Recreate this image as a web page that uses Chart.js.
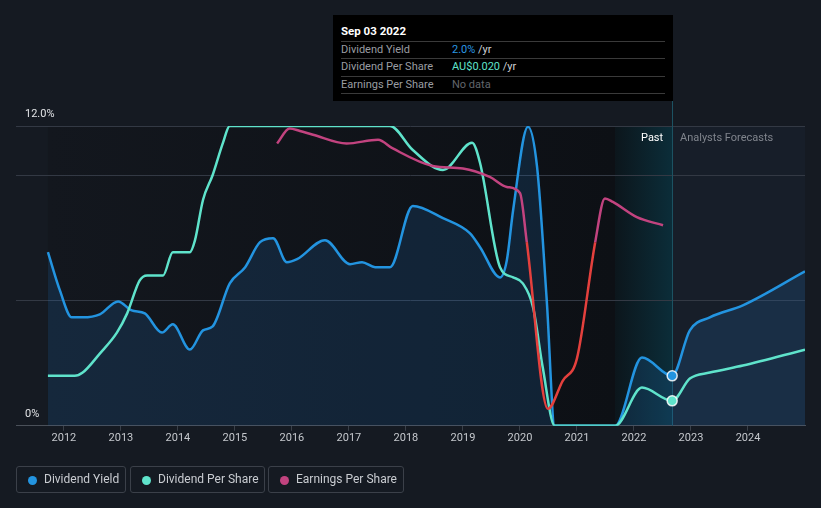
<!DOCTYPE html>
<html>
<head>
<meta charset="utf-8">
<script src="https://cdn.jsdelivr.net/npm/chart.js@4/dist/chart.umd.min.js"></script>
<style>
  html, body { margin:0; padding:0; background:#151a22; }
  #wrap { position:relative; width:821px; height:508px; background:#151a22; font-family: Roboto, "Open Sans", sans-serif; overflow:hidden; }
  canvas { position:absolute; left:0; top:0; }
  .tip { position:absolute; left:333px; top:15px; width:340px; height:86px; background:#000; }
  .tip .title { position:absolute; left:8px; top:9px; color:#fff; font-weight:bold; font-size:11.5px; }
  .tip .row { position:absolute; left:8px; width:324px; height:17px; border-top:1px solid #3a3a3a; font-size:11px; line-height:16px; }
  .tip .row .lab { position:absolute; left:0; color:#9a9da2; }
  .tip .row .val { position:absolute; left:111px; color:#cfd2d6; }
  .tip .last { position:absolute; left:8px; width:324px; top:78px; border-top:1px solid #3a3a3a; }
  .lbl { position:absolute; top:131px; font-size:11px; }
  .legend { position:absolute; top:466px; height:25px; border:1px solid #3b4049; border-radius:3px; color:#c9ccd1; font-size:12px; line-height:25px; box-sizing:content-box; }
  .legend .dot { position:absolute; top:8.5px; width:9px; height:9px; border-radius:50%; }
</style>
</head>
<body>
<div id="wrap">
  <canvas id="c" width="821" height="508"></canvas>
  <div class="tip">
    <div class="title">Sep 03 2022</div>
    <div class="row" style="top:26px"><span class="lab">Dividend Yield</span><span class="val"><span style="color:#2a97e4">2.0%</span> /yr</span></div>
    <div class="row" style="top:43px"><span class="lab">Dividend Per Share</span><span class="val"><span style="color:#5fe3cb">AU$0.020</span> /yr</span></div>
    <div class="row" style="top:61px"><span class="lab">Earnings Per Share</span><span class="val" style="color:#62666c">No data</span></div>
    <div class="last"></div>
  </div>
  <div class="lbl" style="left:641px;color:#ffffff">Past</div>
  <div class="lbl" style="left:680px;color:#80858d">Analysts Forecasts</div>
  <div class="legend" style="left:16px;width:108px"><span class="dot" style="left:11px;background:#2394e0"></span><span style="position:absolute;left:27px">Dividend Yield</span></div>
  <div class="legend" style="left:130px;width:133px"><span class="dot" style="left:11px;background:#5fe3cb"></span><span style="position:absolute;left:27px">Dividend Per Share</span></div>
  <div class="legend" style="left:268px;width:134px"><span class="dot" style="left:11px;background:#c2437f"></span><span style="position:absolute;left:27px">Earnings Per Share</span></div>
</div>
<script>
// ---- data ----
const tickYears = [2012,2013,2014,2015,2016,2017,2018,2019,2020,2021,2022,2023,2024];
const yTickValues = [0,5,10,12];

const yieldYears = [2011.72,2011.93,2012.14,2012.33,2012.63,2012.95,2013.19,2013.42,2013.72,2013.91,2014.21,2014.44,2014.61,2014.91,2015.18,2015.44,2015.67,2015.91,2016.09,2016.58,2017.02,2017.23,2017.46,2017.72,2018.12,2018.65,2019.12,2019.30,2019.65,2019.77,2019.88,2020.14,2020.30,2020.47,2020.61,2021.67,2022.14,2022.67,2022.98,2023.33,2023.91,2025.0];
const yieldValues = [6.95,5.42,4.34,4.34,4.46,4.98,4.62,4.50,3.73,4.06,3.05,3.82,3.98,5.70,6.35,7.35,7.51,6.55,6.67,7.43,6.47,6.55,6.35,6.35,8.80,8.31,7.71,7.15,5.94,6.63,8.63,11.97,10.36,5.02,0,0,2.73,2.0,3.82,4.34,4.82,6.18];

const dpsYears = [2011.72,2012.19,2012.33,2012.63,2012.93,2013.11,2013.33,2013.46,2013.74,2013.91,2014.21,2014.30,2014.44,2014.61,2014.79,2014.91,2017.72,2018.12,2018.65,2019.16,2019.30,2019.65,2019.88,2020.05,2020.23,2020.40,2020.61,2021.67,2022.14,2022.67,2022.98,2023.33,2023.91,2025.0];
const dpsValues = [0.040,0.040,0.0426,0.0578,0.0746,0.090,0.1164,0.1204,0.1204,0.139,0.139,0.1486,0.1808,0.2008,0.2265,0.24,0.24,0.2208,0.2048,0.2266,0.2104,0.127,0.1188,0.114,0.0948,0.0466,0,0,0.0306,0.020,0.0378,0.0426,0.0482,0.061];

const epsYears = [2015.74,2015.96,2016.14,2016.37,2016.96,2017.51,2017.77,2018.47,2019.0,2019.47,2019.77,2020.0,2020.12,2020.49,2020.75,2021.0,2021.32,2021.49,2021.63,2022.05,2022.51];
const epsValues = [0.113,0.119,0.118,0.1165,0.113,0.1145,0.111,0.104,0.103,0.0996,0.0956,0.0932,0.0735,0.0068,0.018,0.027,0.0735,0.091,0.0896,0.0835,0.0803];

const X_MIN = 2011.16, X_MAX = 2025.0;
const PAST_START = 2011.72, BAND_START = 2021.67, NOW = 2022.67;
const EPS_LOW = 0.0735;

const BLUE = '#2394e0', TEAL = '#5fe3cb', PINK = '#c2437f', RED = '#e4403d';

const toPts = (xs, ys) => xs.map((x, i) => ({x, y: ys[i]}));
const nowRadius = c => (c.raw && c.raw.x === NOW) ? 5 : 0;

const bgPlugin = {
  id: 'bg',
  beforeDraw(chart) {
    const {ctx, chartArea: {top, bottom, right}, scales: {x}} = chart;
    const xs = x.getPixelForValue(PAST_START), xb = x.getPixelForValue(BAND_START), xn = x.getPixelForValue(NOW);
    ctx.save();
    let g = ctx.createLinearGradient(xs, 0, xb, 0);
    g.addColorStop(0, '#13171e'); g.addColorStop(1, '#0d1015');
    ctx.fillStyle = g; ctx.fillRect(xs, top, xb - xs, bottom - top);
    g = ctx.createLinearGradient(xb, 0, xn, 0);
    g.addColorStop(0, '#0c161c'); g.addColorStop(1, '#0b2d39');
    ctx.fillStyle = g; ctx.fillRect(xb, top, xn - xb, bottom - top);
    ctx.fillStyle = '#171e29'; ctx.fillRect(xn, top, right - xn, bottom - top);
    ctx.restore();
  },
  beforeDatasetsDraw(chart) {
    const {ctx, chartArea: {bottom}, scales: {x}} = chart;
    const xn = Math.round(x.getPixelForValue(NOW)) + 0.5;
    ctx.save();
    ctx.strokeStyle = '#1c5262'; ctx.lineWidth = 1;
    ctx.beginPath(); ctx.moveTo(xn, 101); ctx.lineTo(xn, bottom); ctx.stroke();
    ctx.restore();
  }
};

new Chart(document.getElementById('c'), {
  type: 'line',
  data: {
    datasets: [
      { label: 'Dividend Yield', data: toPts(yieldYears, yieldValues), yAxisID: 'y',
        borderColor: BLUE, borderWidth: 2.5, fill: 'origin', backgroundColor: 'rgba(35,130,215,0.16)',
        pointRadius: nowRadius, pointBackgroundColor: BLUE, pointBorderColor: 'rgba(255,255,255,0.85)', pointBorderWidth: 1.5,
        cubicInterpolationMode: 'monotone', order: 3 },
      { label: 'Dividend Per Share', data: toPts(dpsYears, dpsValues), yAxisID: 'yDps',
        borderColor: TEAL, borderWidth: 2.5, fill: false,
        pointRadius: nowRadius, pointBackgroundColor: TEAL, pointBorderColor: 'rgba(255,255,255,0.85)', pointBorderWidth: 1.5,
        cubicInterpolationMode: 'monotone', order: 2 },
      { label: 'Earnings Per Share', data: toPts(epsYears, epsValues), yAxisID: 'yEps',
        borderColor: PINK, borderWidth: 2.5, fill: false, pointRadius: 0,
        segment: { borderColor: c => (c.p0.parsed.y <= EPS_LOW + 1e-9 && c.p1.parsed.y <= EPS_LOW + 1e-9) ? RED : PINK },
        cubicInterpolationMode: 'monotone', order: 1 }
    ]
  },
  options: {
    responsive: false, animation: false,
    layout: { padding: { left: -2, right: 16, top: 126, bottom: 62 } },
    plugins: { legend: { display: false }, tooltip: { enabled: false } },
    scales: {
      x: { type: 'linear', min: X_MIN, max: X_MAX,
        afterBuildTicks: s => { s.ticks = tickYears.map(v => ({value: v})); },
        ticks: { color: '#c5c8cd', font: { family: 'Roboto', size: 11 }, padding: 1, maxRotation: 0, autoSkip: false, callback: v => String(v) },
        grid: { drawOnChartArea: false, drawTicks: true, tickLength: 5, color: '#3a4049' },
        border: { color: '#4a5059' } },
      y: { min: 0, max: 12, position: 'left',
        afterBuildTicks: s => { s.ticks = yTickValues.map(v => ({value: v})); },
        ticks: { mirror: true, padding: 9, labelOffset: -12, color: '#e2e4e7', font: { family: 'Roboto', size: 11 },
          callback: v => v === 12 ? '12.0%' : (v === 0 ? '0%' : '') },
        grid: { color: c => c.tick && c.tick.value === 0 ? 'rgba(0,0,0,0)' : '#333944', drawTicks: false },
        border: { display: false } },
      yDps: { display: false, min: 0, max: 0.24 },
      yEps: { display: false, min: 0, max: 0.12 }
    }
  },
  plugins: [bgPlugin]
});
</script>
</body>
</html>
